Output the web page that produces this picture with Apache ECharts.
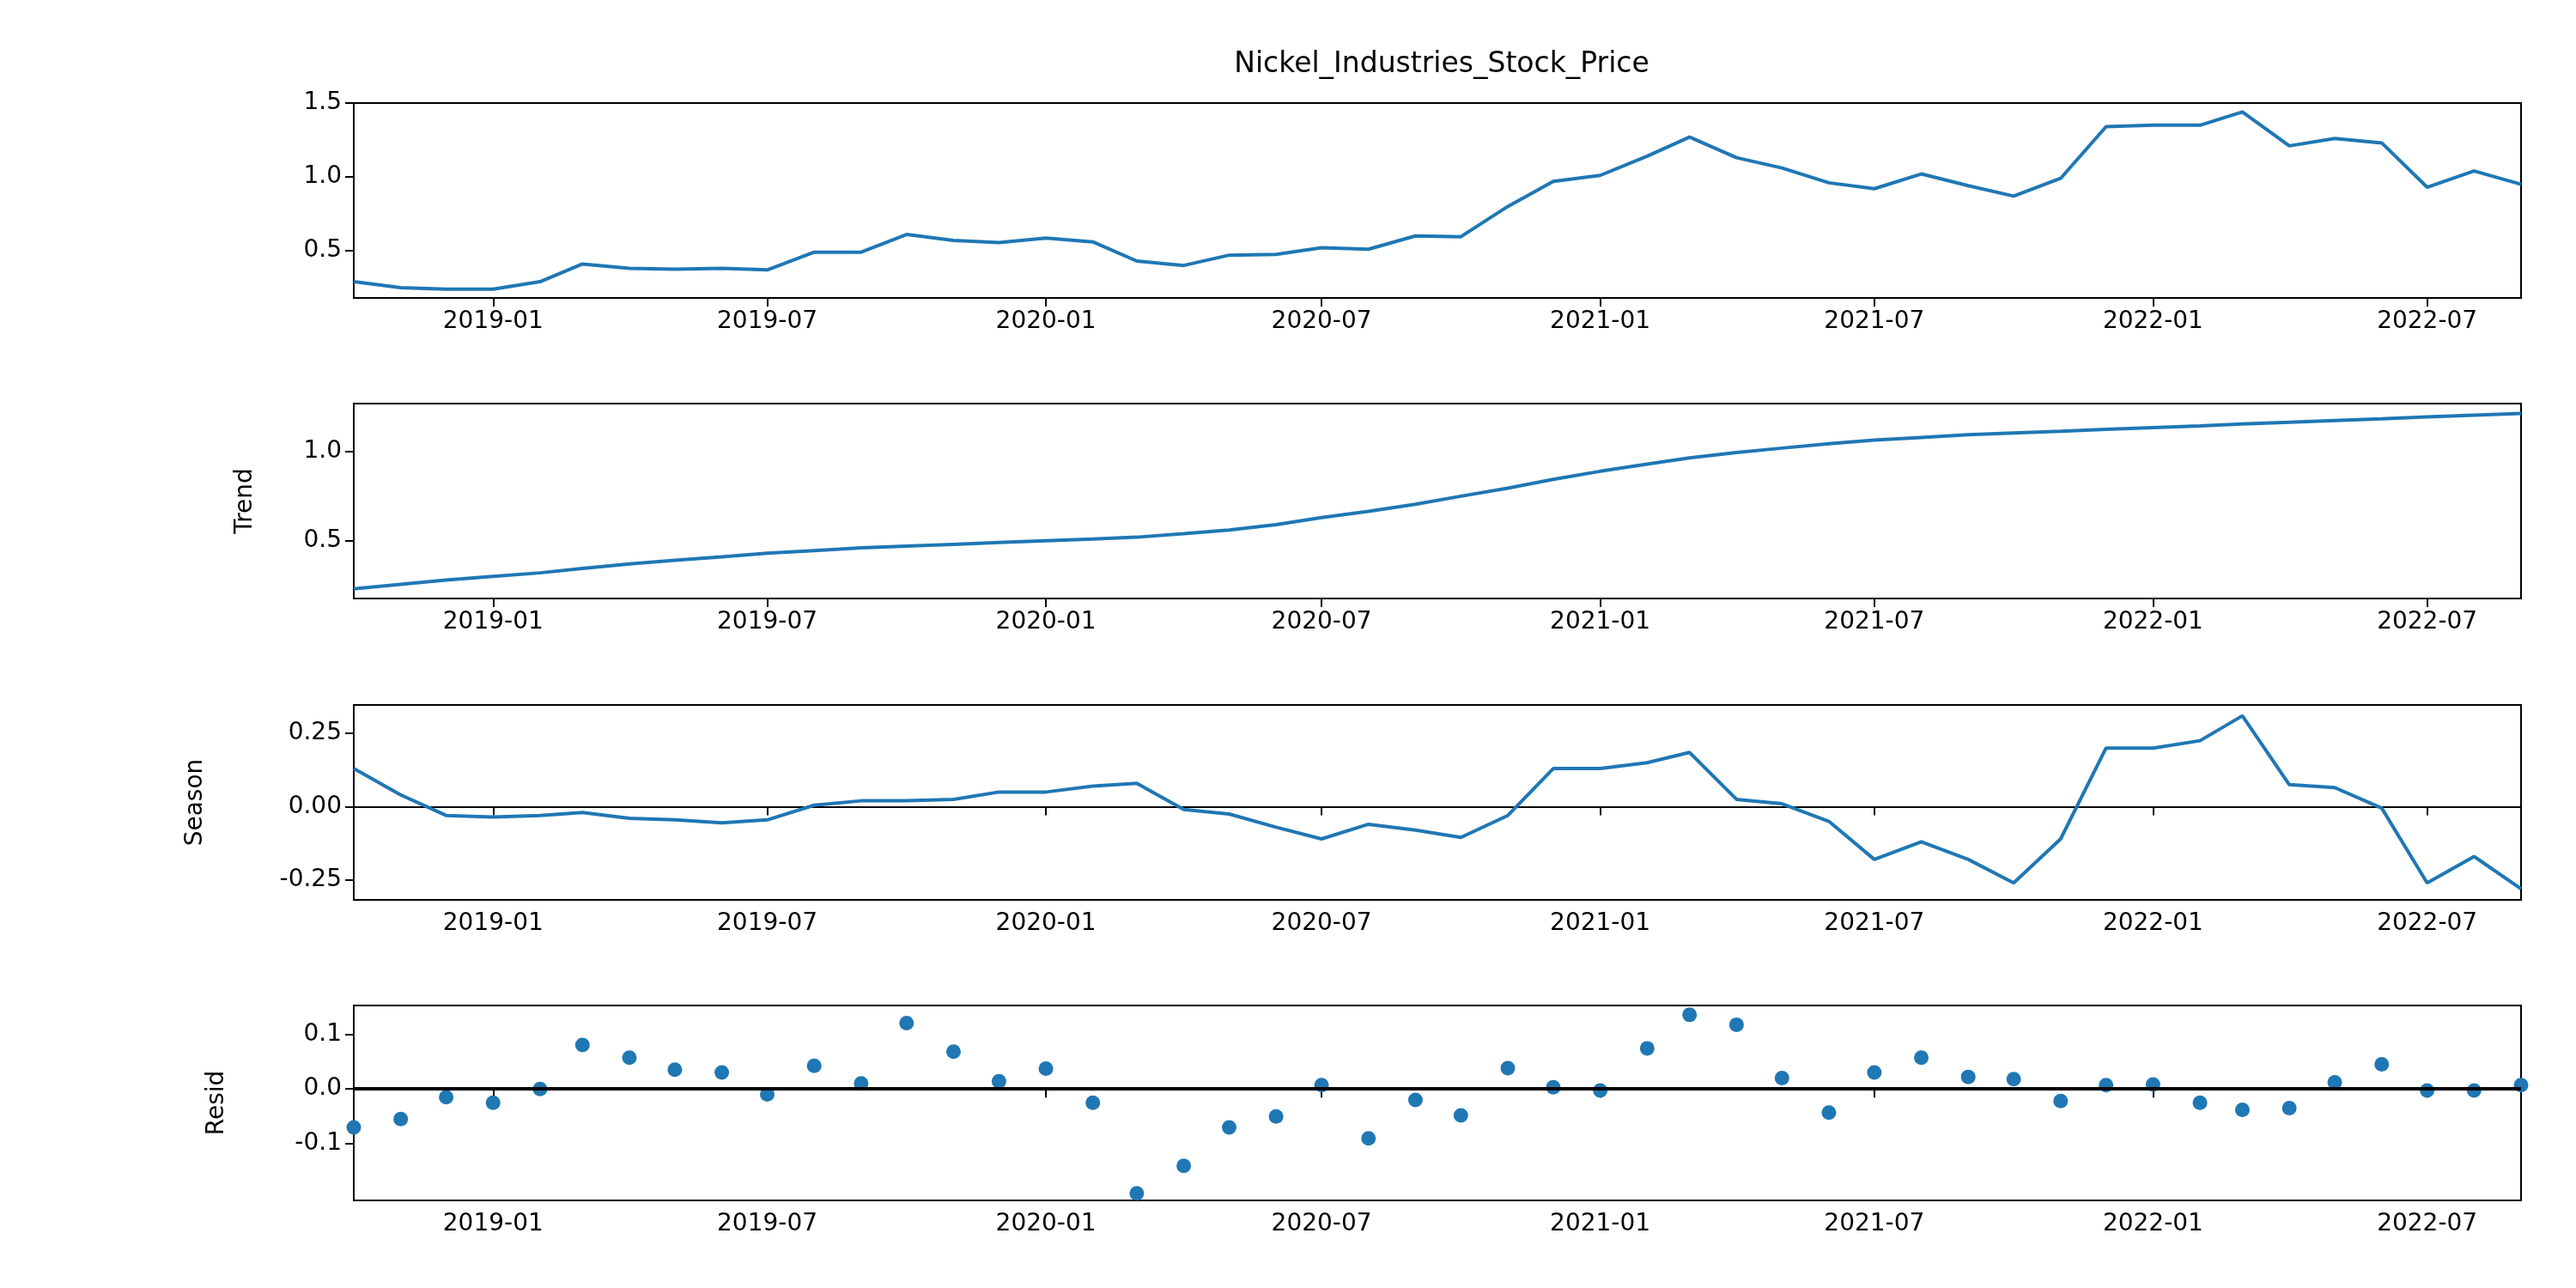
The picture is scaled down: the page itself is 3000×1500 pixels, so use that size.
<!DOCTYPE html>
<html>
<head>
<meta charset="utf-8">
<script src="https://cdn.jsdelivr.net/npm/echarts@6/dist/echarts.min.js"></script>
<style>html,body{margin:0;padding:0;background:#fff}#main{width:3000px;height:1500px}</style>
</head>
<body>
<div id="main"></div>
<script>
// monthly 2018-10 .. 2022-09
var months = [];
for (var y = 2018, m = 10; months.length < 48; ) {
  months.push(y + '-' + (m < 10 ? '0' + m : m));
  m++; if (m > 12) { m = 1; y++; }
}
var price = [0.29,0.25,0.24,0.24,0.29,0.41,0.38,0.375,0.38,0.37,
  0.49,0.49,0.61,0.57,0.555,0.585,0.56,0.43,0.40,0.47,
  0.475,0.52,0.51,0.60,0.595,0.80,0.97,1.01,1.14,1.27,
  1.13,1.06,0.96,0.92,1.02,0.94,0.87,0.99,1.34,1.35,
  1.35,1.44,1.21,1.26,1.23,0.93,1.04,0.95];
var trend = [0.23,0.255,0.28,0.30,0.32,0.345,0.37,0.39,0.41,0.43,
  0.445,0.46,0.47,0.48,0.49,0.50,0.51,0.52,0.54,0.56,
  0.59,0.63,0.665,0.705,0.75,0.795,0.845,0.89,0.93,0.965,
  0.995,1.02,1.045,1.065,1.08,1.095,1.105,1.115,1.125,1.135,
  1.145,1.155,1.165,1.175,1.185,1.195,1.205,1.215];
var season = [0.13,0.04,-0.03,-0.035,-0.03,-0.02,-0.04,-0.045,-0.055,-0.045,
  0.005,0.02,0.02,0.025,0.05,0.05,0.07,0.08,-0.01,-0.025,
  -0.07,-0.11,-0.06,-0.08,-0.105,-0.03,0.13,0.13,0.15,0.185,
  0.025,0.01,-0.05,-0.18,-0.12,-0.18,-0.26,-0.11,0.20,0.20,
  0.225,0.31,0.075,0.065,-0.005,-0.26,-0.17,-0.28];
var resid = [-0.07,-0.055,-0.015,-0.025,0.0,0.08,0.057,0.035,0.03,-0.01,
  0.042,0.01,0.12,0.068,0.014,0.037,-0.025,-0.19,-0.14,-0.07,
  -0.05,0.007,-0.09,-0.02,-0.048,0.038,0.003,-0.003,0.074,0.135,
  0.117,0.02,-0.043,0.03,0.057,0.022,0.018,-0.022,0.007,0.008,
  -0.025,-0.038,-0.035,0.012,0.045,-0.003,-0.003,0.007];
var xTicks = ['2019-01','2019-07','2020-01','2020-07','2021-01','2021-07','2022-01','2022-07'];
var yRanges = [[0.18,1.5],[0.176,1.27],[-0.318,0.347],[-0.203,0.152]];
var yTicks = [[0.5,1.0,1.5],[0.5,1.0],[-0.25,0,0.25],[-0.1,0,0.1]];
var yDigits = [1,1,2,1];
var yNames = ['', 'Trend', 'Season', 'Resid'];
var nameGaps = [0, 112, 170, 145];
var tops = [120, 470, 821, 1171];

function ts(s) { return Date.UTC(+s.slice(0, 4), +s.slice(5, 7) - 1, 1); }
var xTickVals = xTicks.map(ts);
var font = 'DejaVu Sans';
var grids = [], xAxes = [], yAxes = [], series = [];
var allData = [price, trend, season, resid];
for (var i = 0; i < 4; i++) {
  grids.push({left: 412, right: 64, top: tops[i], height: 227, show: true, borderColor: '#000', borderWidth: 2});
  xAxes.push({
    type: 'value', gridIndex: i, min: ts(months[0]), max: ts(months[47]),
    axisLine: {lineStyle: {color: '#000', width: 2}},
    axisTick: {customValues: xTickVals, length: 10, lineStyle: {color: '#000', width: 2}},
    axisLabel: {customValues: xTickVals, color: '#000', fontFamily: font, fontSize: 28, margin: 14,
      formatter: function (v) { var d = new Date(v); var mm = d.getUTCMonth() + 1; return d.getUTCFullYear() + '-' + (mm < 10 ? '0' + mm : mm); }},
    splitLine: {show: false}
  });
  (function (k) {
    yAxes.push({
      type: 'value', gridIndex: k, min: yRanges[k][0], max: yRanges[k][1],
      name: yNames[k], nameLocation: 'middle', nameGap: nameGaps[k], nameRotate: 90,
      nameTextStyle: {color: '#000', fontFamily: font, fontSize: 28},
      axisLine: {show: true, lineStyle: {color: '#000', width: 2}},
      axisTick: {show: true, customValues: yTicks[k], length: 10, lineStyle: {color: '#000', width: 2}},
      axisLabel: {customValues: yTicks[k], color: '#000', fontFamily: font, fontSize: 28, margin: 14,
        formatter: function (v) { return v.toFixed(yDigits[k]); }},
      splitLine: {show: false}
    });
  })(i);
  var pts = allData[i].map(function (v, j) { return [ts(months[j]), v]; });
  if (i < 3) {
    series.push({type: 'line', xAxisIndex: i, yAxisIndex: i, data: pts, showSymbol: false,
      lineStyle: {color: '#1f77b4', width: 4}, animation: false});
  } else {
    series.push({type: 'scatter', xAxisIndex: i, yAxisIndex: i, data: pts, symbolSize: 17,
      itemStyle: {color: '#1f77b4', opacity: 1}, animation: false,
      markLine: {silent: true, symbol: 'none', label: {show: false},
        lineStyle: {color: '#000', width: 4, type: 'solid'}, data: [{yAxis: 0}]}});
  }
}
var chart = echarts.init(document.getElementById('main'));
chart.setOption({
  backgroundColor: '#fff',
  animation: false,
  title: {text: 'Nickel_Industries_Stock_Price', left: 1674, top: 54, textAlign: 'center',
    textStyle: {color: '#000', fontFamily: font, fontSize: 33, fontWeight: 'normal'}},
  grid: grids, xAxis: xAxes, yAxis: yAxes, series: series
});
</script>
</body>
</html>
